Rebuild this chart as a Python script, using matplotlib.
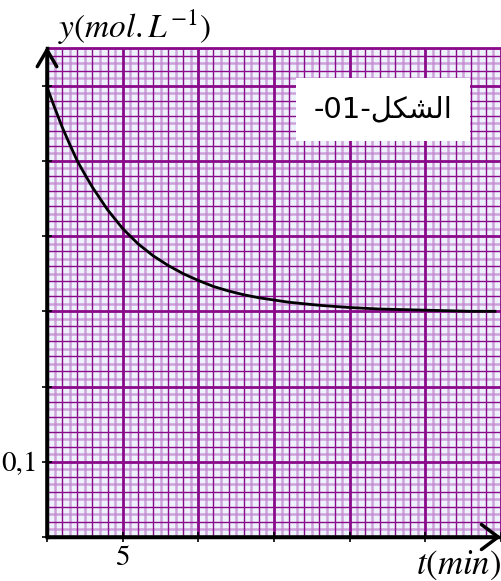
import numpy as np
import matplotlib
matplotlib.use("Agg")
from matplotlib import pyplot as plt

# values (t in min, y in mol/L)
t_min = [0, 0.5, 1, 1.5, 2, 2.5, 3, 4, 5, 6, 7, 8, 9, 10, 11, 12, 13, 14, 15, 16,
         18, 20, 22, 24, 26, 28, 29.6]
y_mol = [0.598, 0.571, 0.545, 0.522, 0.500, 0.482, 0.465, 0.435, 0.410, 0.390,
         0.374, 0.361, 0.350, 0.341, 0.333, 0.327, 0.322, 0.318, 0.315, 0.312,
         0.308, 0.305, 0.303, 0.302, 0.301, 0.300, 0.300]

x_ticks = [0, 5, 10, 15, 20, 25, 30]
x_tick_labels = ['', '5', '', '', '', '', '']
y_ticks = [0, 0.1, 0.2, 0.3, 0.4, 0.5, 0.6]
y_tick_labels = ['', '0,1', '', '', '', '', '']

X_MAX, Y_MAX = 30, 0.65
BG = '#eef2fc'
DARK = '#8a0a8a'
LIGHT = '#c286cf'

plt.rcParams['mathtext.fontset'] = 'stix'

fig = plt.figure(figsize=(5.01, 5.81), dpi=100)
ax = fig.add_axes([47 / 501, 44 / 581, 454 / 501, 489 / 581])
ax.set_xlim(0, X_MAX)
ax.set_ylim(0, Y_MAX)
ax.set_facecolor(BG)

# graph paper: 10 subdivisions per major, dark / light alternating
xs = np.arange(0, X_MAX + 0.01, 0.5)
for i, x in enumerate(xs):
    if i % 10 == 0:
        ax.axvline(x, color=DARK, lw=2.0, zorder=1)
    elif i % 2 == 0:
        ax.axvline(x, color=DARK, lw=1.0, zorder=1)
    else:
        ax.axvline(x, color=LIGHT, lw=1.8, alpha=0.75, zorder=0.9)
ys = np.arange(0, Y_MAX + 0.001, 0.01)
for i, y in enumerate(ys):
    if i % 10 == 0:
        ax.axhline(y, color=DARK, lw=2.0, zorder=1)
    elif i % 2 == 0:
        ax.axhline(y, color=DARK, lw=1.0, zorder=1)
    else:
        ax.axhline(y, color=LIGHT, lw=1.8, alpha=0.75, zorder=0.9)

ax.plot(t_min, y_mol, color='black', lw=2.0, zorder=3)

ax.spines['right'].set_visible(False)
ax.spines['top'].set_color(DARK)
ax.spines['top'].set_linewidth(2.0)
for side in ['left', 'bottom']:
    ax.spines[side].set_color('black')
    ax.spines[side].set_linewidth(2.5)
    ax.spines[side].set_zorder(4)

ax.set_xticks(x_ticks, x_tick_labels)
ax.set_yticks(y_ticks, y_tick_labels)
ax.tick_params(direction='inout', length=7, width=1.2, color='black',
               labelsize=21, pad=3)
for lab in ax.get_xticklabels() + ax.get_yticklabels():
    lab.set_fontfamily('STIXGeneral')

# axis arrows
ax.annotate('', xy=(0, Y_MAX + 0.002), xytext=(0, 0), annotation_clip=False,
            arrowprops=dict(arrowstyle='->, head_length=0.6, head_width=0.35',
                            lw=2.5, color='black', shrinkA=0, shrinkB=0,
                            mutation_scale=20))
ax.annotate('', xy=(X_MAX, 0), xytext=(0, 0), annotation_clip=False,
            arrowprops=dict(arrowstyle='->, head_length=0.6, head_width=0.45',
                            lw=2.5, color='black', shrinkA=0, shrinkB=0,
                            mutation_scale=20))

# labels
fig.text(58 / 501, 1 - 27 / 581, r'$y(mol.L^{-1})$', fontsize=24,
         ha='left', va='center')
fig.text(501 / 501, 1 - 565 / 581, r'$t(min)$', fontsize=25,
         ha='right', va='center')

# title box
ax.text(22.2, 0.568, '-01-' + '\ufede\ufedc\ufeb8\ufedf\ufe8d', fontsize=21,
        fontfamily='DejaVu Sans', ha='center', va='center', zorder=6,
        bbox=dict(boxstyle='square,pad=0.6', facecolor='white',
                  edgecolor='none'))

fig.savefig('out.png', dpi=100)
